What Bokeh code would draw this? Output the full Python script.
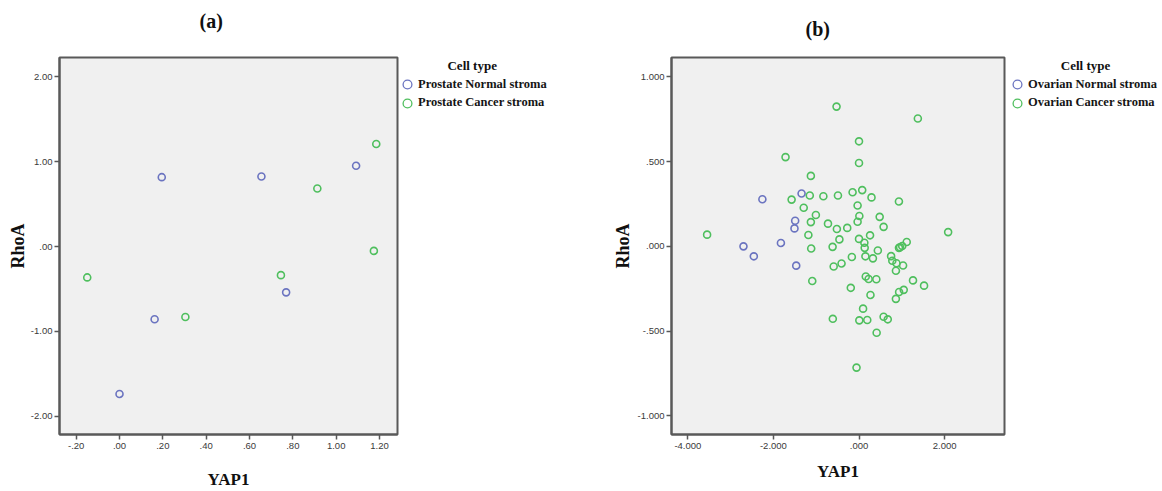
from bokeh.plotting import figure
from bokeh.layouts import row
from bokeh.models import (Range1d, FixedTicker, CustomJSTickFormatter, Label, Legend,
                          LegendItem, Title)
from bokeh.embed import file_html
from bokeh.resources import INLINE

# ---------------- data: panel (a) prostate ----------------
a_normal_yap1 = [0.195, 0.655, 1.092, 0.769, 0.162, 0.000]
a_normal_rhoa = [0.818, 0.826, 0.952, -0.540, -0.857, -1.738]
a_cancer_yap1 = [1.185, 0.913, 1.174, 0.745, 0.304, -0.149]
a_cancer_rhoa = [1.209, 0.685, -0.051, -0.337, -0.830, -0.364]
a_xticks = [-0.2, 0.0, 0.2, 0.4, 0.6, 0.8, 1.0, 1.2]
a_yticks = [-2.0, -1.0, 0.0, 1.0, 2.0]
a_labels = ["Prostate Normal stroma", "Prostate Cancer stroma"]

# ---------------- data: panel (b) ovarian ----------------
b_normal_yap1 = [-2.258, -1.342, -1.492, -1.508, -1.825, -2.700, -2.458, -1.467]
b_normal_rhoa = [0.278, 0.312, 0.151, 0.106, 0.020, 0.000, -0.059, -0.114]
b_cancer_yap1 = [-0.525, 1.375, 0.000, 0.000, -1.717, -1.125, -1.150, -0.833, -0.492, -0.150,
                 0.075, 0.292, 0.933, -1.575, -1.292, -0.033, -1.008, 0.008, 0.483, -1.125,
                 -0.033, -0.725, -0.517, -0.275, 0.575, 2.083, -3.550, -1.183, 0.258, -0.458,
                 0.000, 0.125, 1.115, 1.010, 0.934, 0.960, 0.133, -0.617, -1.117, 0.440,
                 -0.167, 0.150, 0.325, 0.750, 0.778, 0.875, 1.030, 0.863, -0.592, -0.408,
                 0.158, 0.225, 0.405, -1.092, 1.262, 1.520, -0.192, 1.045, 0.937, 0.268,
                 0.862, 0.095, -0.612, 0.007, 0.193, 0.575, 0.672, 0.412, -0.058]
b_cancer_rhoa = [0.825, 0.755, 0.620, 0.492, 0.527, 0.416, 0.300, 0.296, 0.300, 0.319,
                 0.332, 0.289, 0.265, 0.276, 0.228, 0.241, 0.185, 0.179, 0.174, 0.143,
                 0.145, 0.134, 0.102, 0.109, 0.115, 0.084, 0.069, 0.067, 0.065, 0.041,
                 0.044, 0.021, 0.026, 0.002, -0.009, -0.005, -0.009, -0.003, -0.013, -0.025,
                 -0.063, -0.059, -0.071, -0.058, -0.085, -0.100, -0.113, -0.144, -0.119, -0.101,
                 -0.178, -0.193, -0.194, -0.205, -0.201, -0.232, -0.245, -0.257, -0.270, -0.287,
                 -0.310, -0.368, -0.428, -0.437, -0.435, -0.416, -0.431, -0.510, -0.716]
b_xticks = [-4.0, -2.0, 0.0, 2.0]
b_yticks = [-1.0, -0.5, 0.0, 0.5, 1.0]
b_labels = ["Ovarian Normal stroma", "Ovarian Cancer stroma"]

BLUE = "#6b74c0"
GREEN = "#4fbf5e"
FRAME_BG = "#f0f0f0"
EDGE = "#595959"
SERIF = "Liberation Serif"
SANS = "Liberation Sans"
H = 491
TOP = 57          # frame top (px from top)
BOTTOM = 436      # frame bottom (px from top)


def fmt(decimals):
    return CustomJSTickFormatter(code="""
        let s = tick.toFixed(%d);
        if (s.startsWith('0.')) { s = s.slice(1); }
        else if (s.startsWith('-0.')) { s = '-' + s.slice(2); }
        return s;
    """ % decimals)


def make_panel(width, bl, xr, yr, xticks, yticks, dec, nx, ny, cx, cy,
               title, title_offset, gap, ylab_standoff, xlab_standoff):
    p = figure(width=width, height=H, x_range=Range1d(*xr), y_range=Range1d(*yr),
               output_backend="svg", toolbar_location=None,
               min_border_left=bl, min_border_right=2, min_border_top=TOP,
               min_border_bottom=H - BOTTOM,
               background_fill_color=FRAME_BG, border_fill_color="white")
    # empty spacer band right above the frame, then the panel title above it
    p.add_layout(Title(text=" ", text_font_size="1px", standoff=gap), "above")
    p.add_layout(Title(text=title, align="left", offset=title_offset, standoff=10,
                       text_font=SERIF, text_font_style="bold", text_font_size="20px",
                       text_color="#101010"), "above")
    p.outline_line_color = EDGE
    p.outline_line_width = 2
    p.grid.visible = False
    for ax in (p.xaxis[0], p.yaxis[0]):
        ax.axis_line_color = EDGE
        ax.axis_line_width = 2
        ax.major_tick_line_color = EDGE
        ax.major_tick_line_width = 1.5
        ax.major_tick_out = 5
        ax.major_tick_in = 0
        ax.minor_tick_line_color = None
        ax.major_label_text_font = SANS
        ax.major_label_text_font_size = "9.5px"
        ax.major_label_text_color = "#3a3a3a"
        ax.formatter = fmt(dec)
        ax.axis_label_text_font = SERIF
        ax.axis_label_text_font_style = "bold"
        ax.axis_label_text_color = "#101010"
    p.xaxis[0].ticker = FixedTicker(ticks=xticks)
    p.yaxis[0].ticker = FixedTicker(ticks=yticks)
    p.xaxis[0].major_label_standoff = 3
    p.yaxis[0].major_label_standoff = 2
    p.yaxis[0].axis_label = "RhoA"
    p.yaxis[0].axis_label_text_font_size = "18px"
    p.yaxis[0].axis_label_standoff = ylab_standoff
    p.xaxis[0].axis_label = "YAP1"
    p.xaxis[0].axis_label_text_font_size = "17px"
    p.xaxis[0].axis_label_standoff = xlab_standoff

    p.scatter(nx, ny, marker="circle", size=7, fill_color=None, line_color=BLUE, line_width=1.6)
    p.scatter(cx, cy, marker="circle", size=7, fill_color=None, line_color=GREEN, line_width=1.6)
    return p


def make_legend_panel(width, labels, series, legend_x, celltype_x):
    # legend-only canvas; its ranges lie far from the data, so only the legend shows
    q = figure(width=width, height=H, x_range=Range1d(1000, 1001), y_range=Range1d(1000, 1001),
               output_backend="svg", toolbar_location=None,
               x_axis_location=None, y_axis_location=None,
               min_border_left=0, min_border_right=0, min_border_top=TOP,
               min_border_bottom=H - BOTTOM,
               outline_line_color=None, background_fill_color="white",
               border_fill_color="white")
    q.grid.visible = False
    colors = [BLUE, GREEN]
    centers = [86.3, 104.7]   # item centre, px from top
    for (sx, sy), lab, col, cy in zip(series, labels, colors, centers):
        r = q.scatter(sx, sy, marker="circle", fill_color=None, line_color=col, line_width=1.3)
        lg = Legend(items=[LegendItem(label=lab, renderers=[r])],
                    location=(legend_x, BOTTOM - (cy + 11)), padding=0, margin=0, spacing=0,
                    glyph_width=22, glyph_height=22, label_height=22, label_standoff=0,
                    border_line_color=None, background_fill_alpha=0,
                    label_text_font=SERIF, label_text_font_style="bold",
                    label_text_font_size="12.5px", label_text_color="#151515")
        q.add_layout(lg)
    q.add_layout(Label(x=celltype_x, y=BOTTOM - 66.7, x_units="screen", y_units="screen",
                       text="Cell type", text_font=SERIF, text_font_style="bold",
                       text_font_size="13px", text_align="center", text_baseline="middle",
                       text_color="#101010"))
    return q


pa = make_panel(399, 59, (-0.277, 1.283), (-2.216, 2.229), a_xticks, a_yticks, 2,
                a_normal_yap1, a_normal_rhoa, a_cancer_yap1, a_cancer_rhoa,
                "(a)", 140, 18, 0, 18)
la = make_legend_panel(207, a_labels,
                       [(a_normal_yap1, a_normal_rhoa), (a_cancer_yap1, a_cancer_rhoa)],
                       -3, 72.7)
pb = make_panel(400, 65, (-4.382, 3.40), (-1.111, 1.115), b_xticks, b_yticks, 3,
                b_normal_yap1, b_normal_rhoa, b_cancer_yap1, b_cancer_rhoa,
                "(b)", 134, 10, 2, 10)
lb = make_legend_panel(154, b_labels,
                       [(b_normal_yap1, b_normal_rhoa), (b_cancer_yap1, b_cancer_rhoa)],
                       0, 79)

layout = row(pa, la, pb, lb)
open("out.html", "w").write(file_html(layout, INLINE))
